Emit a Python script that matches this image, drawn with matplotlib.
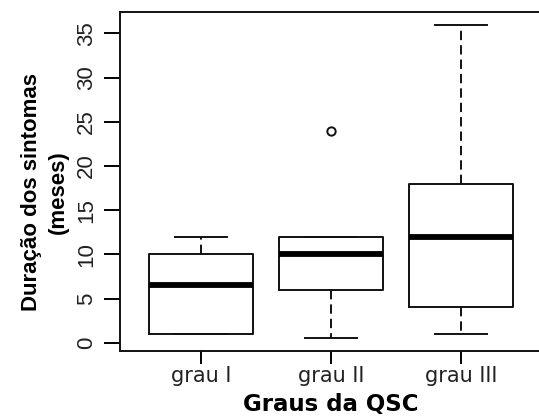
import matplotlib.pyplot as plt

# Valores (meses)
grupos = ['grau I', 'grau II', 'grau III']
minimos = [1, 0.5, 1]
q1 = [1, 6, 4]
medianas = [6.5, 10, 12]
q3 = [10, 12, 18]
maximos = [12, 12, 36]
outliers = [[], [24], []]

stats = []
for i in range(len(grupos)):
    stats.append({'label': grupos[i], 'whislo': minimos[i], 'q1': q1[i],
                  'med': medianas[i], 'q3': q3[i], 'whishi': maximos[i],
                  'fliers': outliers[i]})

fig = plt.figure(figsize=(5.39, 4.19), dpi=100)
# a caixa do R vai um pouco além da borda direita da imagem
ax = fig.add_axes([120 / 539, 1 - 351 / 419, 422 / 539, 339 / 419])

ax.bxp(stats, positions=[1, 2, 3], widths=0.8, showcaps=True,
       boxprops=dict(color='#111111', linewidth=1.4),
       medianprops=dict(color='black', linewidth=4.2, solid_capstyle='butt'),
       whiskerprops=dict(color='#111111', linewidth=1.4, linestyle=(0, (4.8, 2.6))),
       capprops=dict(color='#111111', linewidth=1.4),
       flierprops=dict(marker='o', markerfacecolor='none', markeredgecolor='#111111',
                       markersize=6, markeredgewidth=1.4))

ax.set_xlim(0.38, 3.62)
ax.set_ylim(-0.92, 37.42)
ax.set_yticks([0, 5, 10, 15, 20, 25, 30, 35])
ax.set_xticks([1, 2, 3])
ax.set_xticklabels(grupos, fontsize=15, family='DejaVu Sans', color='#222222')
for t in ax.get_yticklabels():
    t.set_rotation(90)
    t.set_va('center')
    t.set_family('Liberation Sans')
    t.set_fontsize(16)
    t.set_color('#222222')
ax.tick_params(axis='y', direction='out', length=11.5, width=1.4, pad=5)
ax.tick_params(axis='x', direction='out', length=9.5, width=1.4, pad=1.5)

for s in ax.spines.values():
    s.set_linewidth(1.4)
    s.set_color('#111111')

ax.set_xlabel('Graus da QSC', fontsize=16.5, fontweight='bold', family='DejaVu Sans', labelpad=5)
ax.set_ylabel('Duração dos sintomas\n(meses)', fontsize=16, fontweight='bold',
              family='Liberation Sans', linespacing=1.4)
ax.yaxis.set_label_coords(-0.12, 0.47)

fig.savefig('out.png', dpi=100)
